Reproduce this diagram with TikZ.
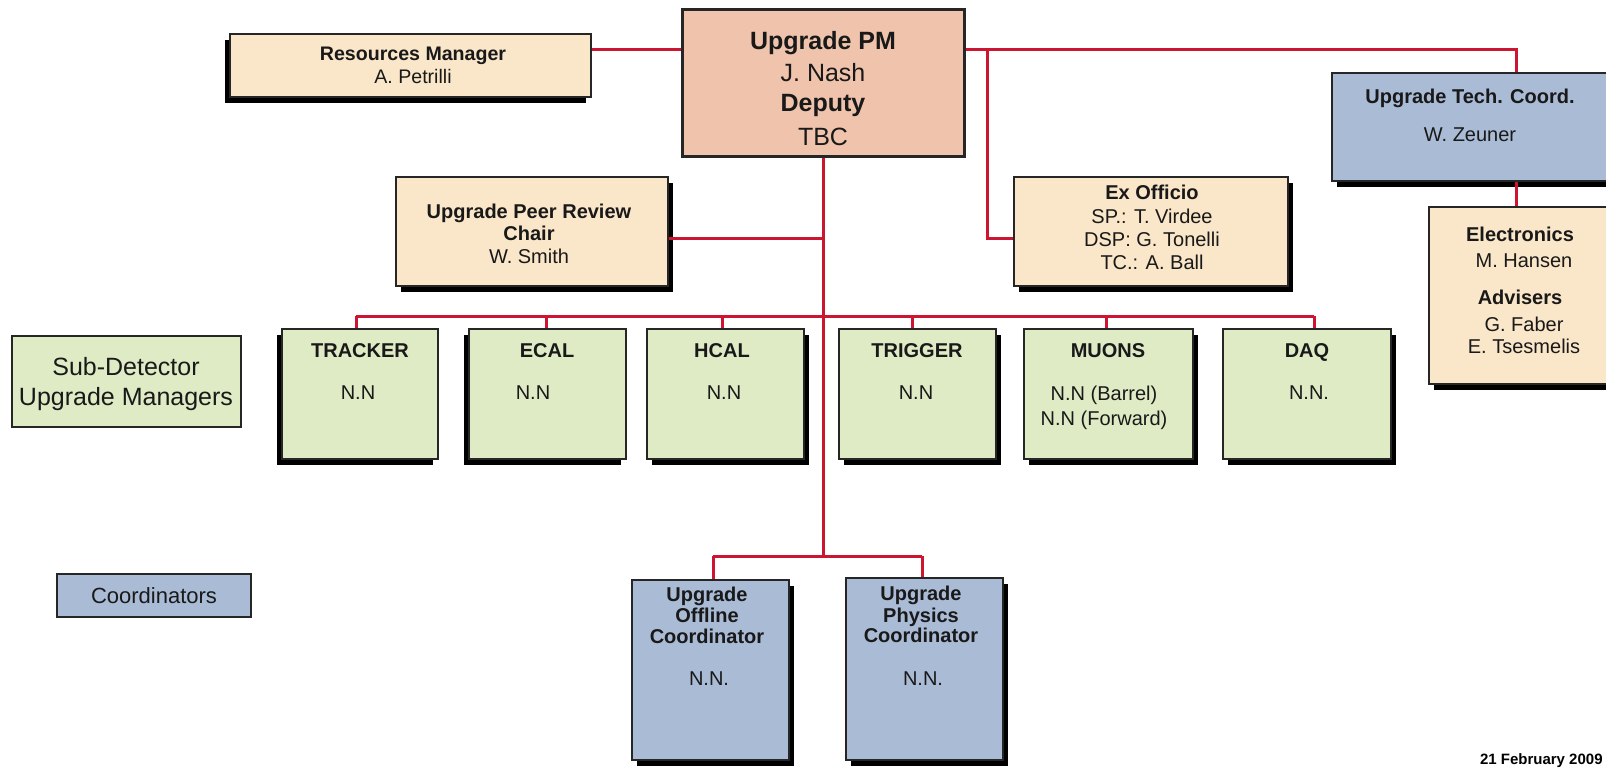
\documentclass[tikz,border=0pt]{standalone}
\usepackage{fontspec}
\setmainfont{Liberation Sans}
\usetikzlibrary{shadows,fit}
\definecolor{pmfill}{HTML}{F0C4AC}
\definecolor{tanfill}{HTML}{FAE6C8}
\definecolor{grnfill}{HTML}{DFEBC5}
\definecolor{bluefill}{HTML}{A9BBD5}
\definecolor{linkred}{HTML}{CC1530}
\newcommand\fsz[1]{\fontsize{#1}{#1}\selectfont}
\newcommand\mytl[5]{\node[lbl,font=#4] (#1) at (#2,#3) {#5};}
\tikzset{
  box/.style={draw=black!85, line width=1pt, inner sep=0pt},
  shr/.style={drop shadow={shadow xshift=2.5pt, shadow yshift=-3pt, fill=black, opacity=1}},
  shl/.style={drop shadow={shadow xshift=-2.5pt, shadow yshift=-3pt, fill=black, opacity=1}},
  link/.style={draw=linkred, line width=1.5pt},
  lbl/.style={anchor=base, inner sep=0pt, text=black!90},
}
\begin{document}
\begin{tikzpicture}[x=0.5pt,y=-0.5pt]
\useasboundingbox (0,0) rectangle (1606,768);
\clip (0,0) rectangle (1606,768);
% boxes
\node[box, line width=1.5pt, fill=pmfill, fit={(682,9) (964,156)}] (pm) {};
\node[box, shl, fill=tanfill, fit={(230,34) (591,97)}] (res) {};
\node[box, shr, fill=tanfill, fit={(396,177) (668,286)}] (peer) {};
\node[box, shr, fill=tanfill, fit={(1014,177) (1288,286)}] (ex) {};
\node[box, shr, fill=bluefill, fit={(1332,73) (1630,181)}] (tech) {};
\node[box, shr, fill=tanfill, fit={(1429,207) (1630,384)}] (elec) {};
\node[box, shl, fill=grnfill, fit={(282,329) (438,459)}] (trk) {};
\node[box, shl, fill=grnfill, fit={(469,329) (626,459)}] (ecal) {};
\node[box, shr, fill=grnfill, fit={(647,329) (804,459)}] (hcal) {};
\node[box, shr, fill=grnfill, fit={(839,329) (996,459)}] (trig) {};
\node[box, shr, fill=grnfill, fit={(1024,329) (1193,459)}] (muon) {};
\node[box, shr, fill=grnfill, fit={(1223,329) (1391,459)}] (daq) {};
\node[box, shr, fill=bluefill, fit={(632,580) (789,760)}] (off) {};
\node[box, shr, fill=bluefill, fit={(846,578) (1003,760)}] (phys) {};
\node[box, fill=grnfill, fit={(12,336) (241,427)}] (subdet) {};
\node[box, fill=bluefill, fit={(57,574) (251,617)}] (coord) {};
% links
\coordinate (j1) at (987,49);
\coordinate (j2) at (987,238);
\coordinate (j3) at (1516,49);
\coordinate (jc) at (824,238);
\coordinate (bus) at (824,316);
\coordinate (bot) at (824,556);
\draw[link] (res.east |- j1) -- (pm.west |- j1);
\draw[link] (pm.east |- j1) -- (j3) -- (j3 |- tech.north);
\draw[link] (j1) -- (j2) -- (j2 -| ex.west);
\draw[link] (j3 |- tech.south) -- (j3 |- elec.north);
\draw[link] (pm.south) -- (pm.south |- bot);
\draw[link] (peer.east |- jc) -- (jc);
\draw[link] (356,316) -- (1314,316);
\foreach \n/\x in {trk/356, ecal/546, hcal/722, trig/912, muon/1106, daq/1314}
  \draw[link] (\x,316) -- (\n.north -| \x,0);
\draw[link] (713,556) -- (922,556);
\draw[link] (713,556) -- (off.north -| 713,0);
\draw[link] (922,556) -- (phys.north -| 922,0);
% texts
\mytl{pm1}{823}{49}{\fsz{12.5}\bfseries}{Upgrade PM}
\mytl{pm2}{823}{81}{\fsz{12.5}}{J. Nash}
\mytl{pm3}{823}{111}{\fsz{12.5}\bfseries}{Deputy}
\mytl{pm4}{823}{145}{\fsz{12.5}}{TBC}
\mytl{res1}{413}{60}{\fsz{9.8}\bfseries}{Resources Manager}
\mytl{res2}{413}{83}{\fsz{9.8}}{A. Petrilli}
\mytl{peer1}{529}{218}{\fsz{10}\bfseries}{Upgrade Peer Review}
\mytl{peer2}{529}{240}{\fsz{10}\bfseries}{Chair}
\mytl{peer3}{529}{263}{\fsz{10}}{W. Smith}
\mytl{ex1}{1152}{199}{\fsz{10}\bfseries}{Ex Officio}
\mytl{ex2}{1152}{223}{\fsz{10}}{SP.: T. Virdee}
\mytl{ex3}{1152}{246}{\fsz{10}}{DSP: G. Tonelli}
\mytl{ex4}{1152}{269}{\fsz{10}}{TC.: A. Ball}
\mytl{tech1}{1470}{103}{\fsz{10}\bfseries}{Upgrade Tech. Coord.}
\mytl{tech2}{1470}{141}{\fsz{10}}{W. Zeuner}
\mytl{el1}{1520}{241}{\fsz{10}\bfseries}{Electronics}
\mytl{el2}{1524}{267}{\fsz{10}}{M. Hansen}
\mytl{el3}{1520}{304}{\fsz{10}\bfseries}{Advisers}
\mytl{el4}{1524}{331}{\fsz{10}}{G. Faber}
\mytl{el5}{1524}{353}{\fsz{10}}{E. Tsesmelis}
\mytl{trk1}{360}{357}{\fsz{10}\bfseries}{TRACKER}
\mytl{trk2}{358}{399}{\fsz{10}}{N.N}
\mytl{ecal1}{547}{357}{\fsz{10}\bfseries}{ECAL}
\mytl{ecal2}{533}{399}{\fsz{10}}{N.N}
\mytl{hcal1}{722}{357}{\fsz{10}\bfseries}{HCAL}
\mytl{hcal2}{724}{399}{\fsz{10}}{N.N}
\mytl{trig1}{917}{357}{\fsz{10}\bfseries}{TRIGGER}
\mytl{trig2}{916}{399}{\fsz{10}}{N.N}
\mytl{muon1}{1108}{357}{\fsz{10}\bfseries}{MUONS}
\mytl{muon2}{1104}{400}{\fsz{10}}{N.N (Barrel)}
\mytl{muon3}{1104}{425}{\fsz{10}}{N.N (Forward)}
\mytl{daq1}{1307}{357}{\fsz{10}\bfseries}{DAQ}
\mytl{daq2}{1309}{399}{\fsz{10}}{N.N.}
\mytl{off1}{707}{601}{\fsz{10}\bfseries}{Upgrade}
\mytl{off2}{707}{622}{\fsz{10}\bfseries}{Offline}
\mytl{off3}{707}{643}{\fsz{10}\bfseries}{Coordinator}
\mytl{off4}{709}{685}{\fsz{10}}{N.N.}
\mytl{phys1}{921}{600}{\fsz{10}\bfseries}{Upgrade}
\mytl{phys2}{921}{622}{\fsz{10}\bfseries}{Physics}
\mytl{phys3}{921}{642}{\fsz{10}\bfseries}{Coordinator}
\mytl{phys4}{923}{685}{\fsz{10}}{N.N.}
\mytl{sd1}{126}{375}{\fsz{12.5}}{Sub-Detector}
\mytl{sd2}{126}{405}{\fsz{12.5}}{Upgrade Managers}
\mytl{co1}{154}{603}{\fsz{11}}{Coordinators}
\node[anchor=base east, inner sep=0pt, font={\fsz{7.5}\bfseries}] (date) at (1603,764) {21 February 2009};
\end{tikzpicture}
\end{document}
